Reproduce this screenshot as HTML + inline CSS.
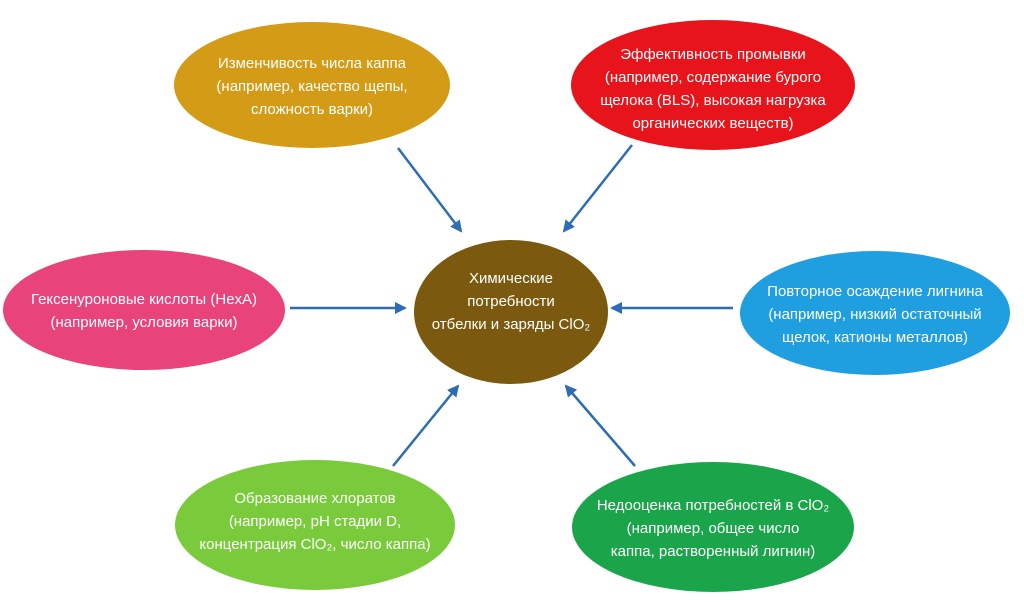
<!DOCTYPE html>
<html><head><meta charset="utf-8"><style>
body{margin:0;background:#fff;width:1024px;height:597px;overflow:hidden}
svg text{font-family:"Liberation Sans",sans-serif;font-size:15px;fill:#fff;text-anchor:middle}
</style></head><body>
<svg width="1024" height="597" viewBox="0 0 1024 597">
<defs><marker id="a" markerWidth="12" markerHeight="12" refX="10" refY="6" orient="auto" markerUnits="userSpaceOnUse"><path d="M0,0 L12,6 L0,12 z" fill="#2e6db4"/></marker></defs>
<ellipse cx="312" cy="85" rx="138" ry="63" fill="#d39b16"/>
<ellipse cx="713" cy="85" rx="142" ry="65" fill="#e8141b"/>
<ellipse cx="144" cy="310" rx="141" ry="60" fill="#e9437b"/>
<ellipse cx="511" cy="312" rx="97" ry="72" fill="#7b5a10"/>
<ellipse cx="875" cy="313" rx="135" ry="62" fill="#1f9fe0"/>
<ellipse cx="315" cy="525" rx="140" ry="65" fill="#7acb3b"/>
<ellipse cx="713" cy="527" rx="141" ry="65" fill="#1ba54a"/>
<g stroke="#2e6db4" stroke-width="2.5" marker-end="url(#a)">
<line x1="398" y1="148" x2="461" y2="231"/>
<line x1="632" y1="145" x2="564" y2="231"/>
<line x1="290" y1="308" x2="405" y2="308"/>
<line x1="733" y1="308" x2="612" y2="308"/>
<line x1="393" y1="466" x2="458" y2="386"/>
<line x1="635" y1="466" x2="566" y2="386"/>
</g>
<text x="312" y="68">Изменчивость числа каппа</text>
<text x="312" y="91">(например, качество щепы,</text>
<text x="312" y="114">сложность варки)</text>
<text x="713" y="59">Эффективность промывки</text>
<text x="713" y="82">(например, содержание бурого</text>
<text x="713" y="105">щелока (BLS), высокая нагрузка</text>
<text x="713" y="128">органических веществ)</text>
<text x="144" y="304">Гексенуроновые кислоты (HexA)</text>
<text x="144" y="327">(например, условия варки)</text>
<text x="511" y="283">Химические</text>
<text x="511" y="306">потребности</text>
<text x="511" y="329">отбелки и заряды ClO₂</text>
<text x="875" y="296">Повторное осаждение лигнина</text>
<text x="875" y="319">(например, низкий остаточный</text>
<text x="875" y="342">щелок, катионы металлов)</text>
<text x="315" y="503">Образование хлоратов</text>
<text x="315" y="526">(например, pH стадии D,</text>
<text x="315" y="549">концентрация ClO₂, число каппа)</text>
<text x="713" y="510">Недооценка потребностей в ClO₂</text>
<text x="713" y="533">(например, общее число</text>
<text x="713" y="556">каппа, растворенный лигнин)</text>
</svg>
</body></html>
